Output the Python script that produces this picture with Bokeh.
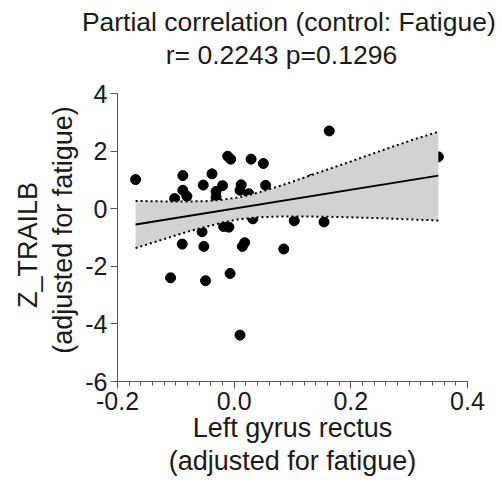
from bokeh.plotting import figure
from bokeh.models import LinearAxis, SingleIntervalTicker, FixedTicker, PrintfTickFormatter, Range1d
from bokeh.embed import file_html
from bokeh.resources import INLINE

# scatter data
pts_x = [-0.169, -0.088, -0.102, -0.088, -0.081, -0.053, -0.038, -0.031, -0.020, -0.031,
         -0.011, -0.006, 0.029, 0.050, 0.012, 0.010, 0.025, 0.054, 0.133, 0.163, 0.350,
         0.032, 0.103, 0.154, -0.018, -0.009, -0.055, -0.089, -0.052, 0.014, 0.018, 0.085,
         -0.109, -0.049, -0.007, 0.010]
pts_y = [1.01, 1.15, 0.35, 0.64, 0.43, 0.82, 1.21, 0.60, 0.80, 0.40,
         1.82, 1.72, 1.72, 1.57, 0.83, 0.64, 0.52, 0.81, 1.02, 2.70, 1.80,
         -0.35, -0.42, -0.46, -0.62, -0.64, -0.80, -1.23, -1.31, -1.31, -1.18, -1.40,
         -2.40, -2.50, -2.25, -4.39]

# regression line
fit_x = [-0.169, 0.350]
fit_y = [-0.545, 1.148]

# confidence band
band_x = [-0.169, -0.14, -0.11, -0.08, -0.05, -0.02, 0.01, 0.04, 0.08, 0.12, 0.16, 0.20, 0.25, 0.30, 0.350]
band_upper = [0.27, 0.26, 0.25, 0.25, 0.26, 0.31, 0.40, 0.55, 0.80, 1.08, 1.36, 1.64, 2.00, 2.35, 2.67]
band_lower = [-1.37, -1.18, -0.99, -0.80, -0.64, -0.48, -0.36, -0.30, -0.27, -0.27, -0.28, -0.30, -0.33, -0.37, -0.41]

y_ticks = [-6, -4, -2, 0, 2, 4]

NB = "\u00a0"
title1 = "Partial correlation (control: Fatigue)"
title2 = "r= 0.2243 p=0.1296"
xlabel1 = "Left gyrus rectus"
xlabel2 = "(adjusted for fatigue)"
ylabel1 = "Z_TRAILB"
ylabel2 = "(adjusted for fatigue)"

FONT = "Liberation Sans"
TXT = "#1a1a1a"
AX = "#555555"

p = figure(width=502, height=487, output_backend="svg", toolbar_location=None,
           x_range=Range1d(-0.2, 0.4), y_range=Range1d(-6, 4),
           min_border_left=117, min_border_right=35, min_border_top=93, min_border_bottom=106)
p.title = None

p.xgrid.visible = False
p.ygrid.visible = False
p.outline_line_color = None
p.background_fill_color = "white"
p.border_fill_color = "white"

p.scatter(pts_x, pts_y, size=10, color="black")
p.varea(x=band_x, y1=band_lower, y2=band_upper, fill_color="#d2d2d2", fill_alpha=1.0)
p.line(band_x, band_upper, line_color="black", line_width=2, line_dash="2 3")
p.line(band_x, band_lower, line_color="black", line_width=2, line_dash="2 3")
p.line(fit_x, fit_y, line_color="black", line_width=2)

xa = p.xaxis[0]
xa.ticker = SingleIntervalTicker(interval=0.2, num_minor_ticks=10)
xa.formatter = PrintfTickFormatter(format="%.1f")
ya = p.yaxis[0]
ya.ticker = FixedTicker(ticks=y_ticks, minor_ticks=[])
ya.formatter = PrintfTickFormatter(format="%d")

for ax in (xa, ya):
    ax.axis_line_color = AX
    ax.major_tick_line_color = AX
    ax.minor_tick_line_color = AX
    ax.major_tick_in = 0
    ax.major_tick_out = 7
    ax.minor_tick_in = 0
    ax.minor_tick_out = 4
    ax.major_label_text_font = FONT
    ax.major_label_text_font_size = "25px"
    ax.major_label_text_color = TXT
    ax.major_label_standoff = 3
ya.minor_tick_out = 0


def style_label(ax, text, size, standoff):
    ax.axis_label = text
    ax.axis_label_text_font = FONT
    ax.axis_label_text_font_size = size
    ax.axis_label_text_font_style = "normal"
    ax.axis_label_text_color = TXT
    ax.axis_label_standoff = standoff


def text_axis(side, text, size, standoff):
    ax = LinearAxis(ticker=FixedTicker(ticks=[], minor_ticks=[]), axis_line_color=None,
                    major_tick_out=0, major_tick_in=0, minor_tick_out=0, minor_tick_in=0,
                    major_label_text_font_size="0px")
    style_label(ax, text, size, standoff)
    p.add_layout(ax, side)
    return ax


style_label(xa, xlabel1, "27px", 0)
style_label(ya, NB + NB + ylabel2, "27px", 4)
text_axis("below", xlabel2, "27px", 0)
text_axis("left", ylabel1 + NB + NB, "27px", 3)
text_axis("above", title2 + NB + NB + NB, "26.5px", 24)
text_axis("above", title1 + NB, "26.5px", 0)

open("out.html", "w").write(file_html(p, INLINE))
